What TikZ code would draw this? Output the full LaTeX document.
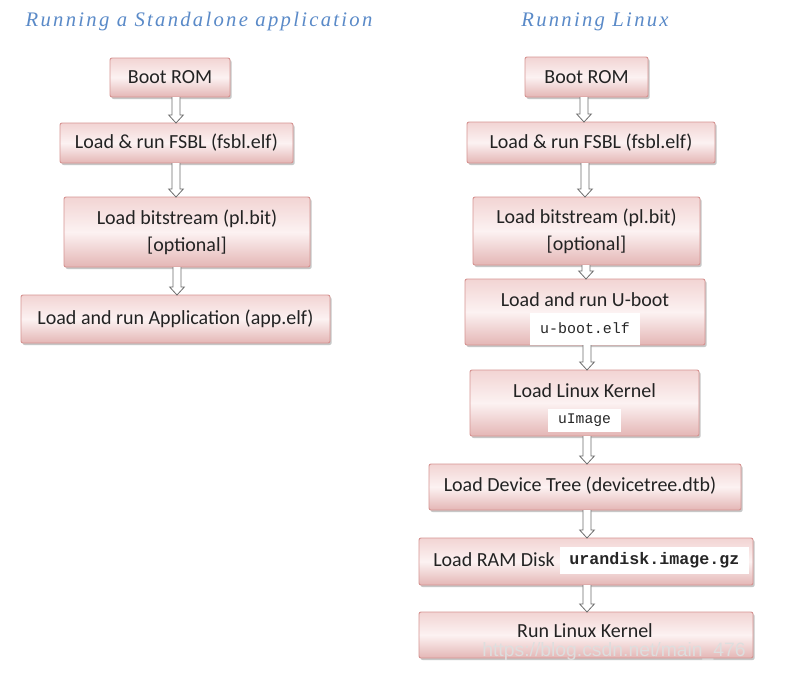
\documentclass[tikz,border=0pt]{standalone}
\usepackage{fontspec}
\setmainfont{Carlito}
\newfontfamily\titlefont[LetterSpace=11]{Liberation Serif}
\newfontfamily\codefont{Liberation Mono}
\newfontfamily\wmfont{Liberation Sans}
\usetikzlibrary{calc,shadows}
\definecolor{boxborder}{RGB}{214,148,146}
\definecolor{boxtop}{RGB}{242,212,211}
\definecolor{boxmid}{RGB}{252,242,242}
\definecolor{boxbot}{RGB}{228,182,181}
\definecolor{titleblue}{RGB}{90,138,200}
\definecolor{boxtext}{RGB}{35,35,35}
\definecolor{arrowgray}{RGB}{110,110,110}
\definecolor{wmgray}{RGB}{222,222,222}
\tikzset{
  flowbox/.style={rectangle, draw=boxborder, line width=0.7pt, rounded corners=1.5pt,
    top color=boxtop, bottom color=boxbot, middle color=boxmid,
    inner sep=0pt, outer sep=0pt, text=boxtext, align=center,
    font=\fontsize{15}{20}\selectfont,
    drop shadow={shadow xshift=1.2pt, shadow yshift=-1.5pt, fill=black!40, opacity=0.55}},
  boxlabel/.style={inner sep=0pt, text=boxtext, font=\fontsize{15}{20}\selectfont},
  whitetag/.style={rectangle, fill=white, inner sep=0pt, outer sep=0pt, text=black!85},
  titletext/.style={inner sep=0pt, text=titleblue, font=\titlefont\itshape\fontsize{15.5}{18}\selectfont},
  harrowline/.style={draw=arrowgray, fill=white, line width=0.6pt, line join=miter},
}
\newcommand\harrow[3]{%
  \draw[harrowline] let \p1=(#1.south), \p2=(#2.north), \p3=(#3,0) in
    ({\x3-3pt},\y1) -- ({\x3-3pt},{\y2+6pt}) -- ({\x3-5.5pt},{\y2+6pt}) -- (\x3,\y2)
    -- ({\x3+5.5pt},{\y2+6pt}) -- ({\x3+3pt},{\y2+6pt}) -- ({\x3+3pt},\y1);}
\begin{document}
\begin{tikzpicture}[x=0.75pt,y=-0.75pt]
\useasboundingbox[fill=white] (0,0) rectangle (798,672);

% titles
\node[titletext] (tleft) at (199,22) {Running a Standalone application};
\node[titletext] (tright) at (595,22) {Running Linux};

% left column
\node[flowbox, minimum width=90pt, minimum height=29.25pt] (l1) at (170,77.5) {Boot ROM};
\node[flowbox, minimum width=174.75pt, minimum height=30pt] (l2) at (176.5,143) {Load \& run FSBL (fsbl.elf)};
\node[flowbox, minimum width=184.5pt, minimum height=52.5pt] (l3) at (187,232) {Load bitstream (pl.bit)\\{}[optional]};
\node[flowbox, minimum width=231.75pt, minimum height=36pt] (l4) at (175.5,319) {Load and run Application (app.elf)};

\harrow{l1}{l2}{176}
\harrow{l2}{l3}{176}
\harrow{l3}{l4}{177}

% right column
\node[flowbox, minimum width=92.25pt, minimum height=30pt] (r1) at (586.5,77) {Boot ROM};
\node[flowbox, minimum width=186pt, minimum height=30.75pt] (r2) at (591,142.5) {Load \& run FSBL (fsbl.elf)};
\node[flowbox, minimum width=170.25pt, minimum height=51pt] (r3) at (586.5,231) {Load bitstream (pl.bit)\\{}[optional]};
\node[flowbox, minimum width=180pt, minimum height=49.5pt] (r4) at (585,312) {};
\node[boxlabel] (r4t) at (585,300) {Load and run U-boot};
\node[whitetag, minimum width=82.5pt, minimum height=24pt, font=\codefont\fontsize{11.2}{13}\selectfont] (r4c) at (585,328.5) {u-boot.elf};
\node[flowbox, minimum width=171.75pt, minimum height=49.5pt] (r5) at (584.5,403) {};
\node[boxlabel] (r5t) at (584.5,391) {Load Linux Kernel};
\node[whitetag, minimum width=54.75pt, minimum height=17.25pt, font=\codefont\fontsize{11}{13}\selectfont] (r5c) at (584.5,420.5) {uImage};
\node[flowbox, minimum width=234pt, minimum height=34.5pt] (r6) at (585,487) {};
\node[boxlabel] (r6t) at (580,486) {Load Device Tree (devicetree.dtb)};
\node[flowbox, minimum width=250.5pt, minimum height=35.25pt] (r7) at (586,561.5) {};
\node[boxlabel, anchor=west] (r7t) at (433,561) {Load RAM Disk (};
\node[whitetag, minimum width=141.75pt, minimum height=20.25pt, font=\codefont\bfseries\fontsize{12.5}{14}\selectfont] (r7c) at (654.5,560.5) {urandisk.image.gz};
\node[flowbox, minimum width=250.5pt, minimum height=34.5pt] (r8) at (586,635) {};
\node[boxlabel] (r8t) at (585,631) {Run Linux Kernel};

\harrow{r1}{r2}{584}
\harrow{r2}{r3}{585}
\harrow{r3}{r4}{586}
\harrow{r4}{r5}{587}
\harrow{r5}{r6}{587}
\harrow{r6}{r7}{587}
\harrow{r7}{r8}{587}

% watermark
\node[inner sep=0pt, text=wmgray, font=\wmfont\fontsize{14.5}{17}\selectfont] (wm) at (614,651) {https://blog.csdn.net/main\_476};
\end{tikzpicture}
\end{document}
